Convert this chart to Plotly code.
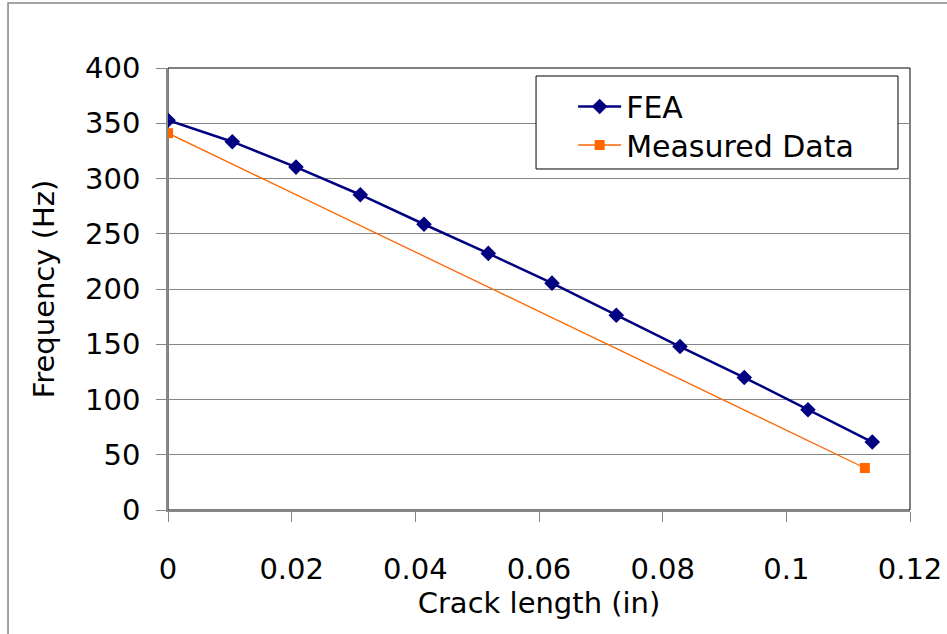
import plotly.graph_objects as go

# Crack length (in) and first natural frequency (Hz)
fea_crack = [0, 0.0104, 0.0207, 0.0311, 0.0414, 0.0518, 0.0621, 0.0725, 0.0828, 0.0932, 0.1035, 0.1139]
fea_freq = [352.7, 333.3, 310.3, 285.3, 258.6, 232.2, 205.3, 176.2, 147.9, 119.9, 90.7, 61.5]

measured_crack = [0, 0.1127]
measured_freq = [341, 38]

x_ticks = [0, 0.02, 0.04, 0.06, 0.08, 0.1, 0.12]
x_tick_text = ["0", "0.02", "0.04", "0.06", "0.08", "0.1", "0.12"]
y_ticks = [0, 50, 100, 150, 200, 250, 300, 350, 400]

FONT = "'DejaVu Sans', sans-serif"
FS = 29

fig = go.Figure()
fig.add_trace(go.Scatter(
    x=fea_crack, y=fea_freq, name="FEA", mode="lines+markers",
    line=dict(color="#000080", width=2.5),
    marker=dict(symbol="diamond", size=12, color="#000080"),
    legend="legend",
))
fig.add_trace(go.Scatter(
    x=measured_crack, y=measured_freq, name="Measured Data", mode="lines+markers",
    line=dict(color="#FF6600", width=1.3),
    marker=dict(symbol="square", size=10, color="#FF6600"),
    legend="legend2",
))

axis_common = dict(
    showline=True, linecolor="#868686", linewidth=1.5,
    ticks="outside", ticklen=10, tickcolor="#868686", tickwidth=1,
    tickfont=dict(family=FONT, size=FS, color="#000000"),
    zeroline=False, automargin=False,
)

fig.update_xaxes(
    range=[0, 0.12], tickvals=x_ticks, ticktext=x_tick_text, showgrid=False,
    title=dict(text="Crack length (in)", font=dict(family=FONT, size=FS, color="#000000"), standoff=0),
    ticklabelstandoff=22,
    **axis_common,
)
fig.update_yaxes(
    range=[0, 400], tickvals=y_ticks, showgrid=True, gridcolor="#868686", gridwidth=1,
    title=dict(text="Frequency (Hz)", font=dict(family=FONT, size=FS, color="#000000"), standoff=22),
    ticklabelstandoff=10,
    **axis_common,
)

legend_common = dict(
    xanchor="left", yanchor="middle",
    borderwidth=0, bgcolor="rgba(0,0,0,0)",
    font=dict(family=FONT, size=30, color="#000000"),
    itemwidth=43,
)

fig.update_layout(
    width=947, height=634,
    margin=dict(l=168, r=37, t=68, b=124, autoexpand=False),
    paper_bgcolor="#FFFFFF", plot_bgcolor="#FFFFFF",
    showlegend=True,
    legend=dict(x=0.546, y=0.9129, **legend_common),
    legend2=dict(x=0.546, y=0.8258, **legend_common),
    shapes=[
        # plot area frame
        dict(type="rect", xref="paper", yref="paper", x0=0, y0=0, x1=1, y1=1,
             line=dict(color="#000000", width=1), layer="below"),
        # legend box
        dict(type="rect", xref="paper", yref="paper", x0=0.496, y0=0.7715, x1=0.9838, y1=0.9819,
             line=dict(color="#000000", width=1), fillcolor="#FFFFFF", layer="above"),
        # outer chart border
        dict(type="rect", xref="paper", yref="paper", x0=-0.2156, y0=-0.4, x1=1.2, y1=1.147,
             line=dict(color="#868686", width=1.5)),
    ],
)

fig.write_html("out.html")
